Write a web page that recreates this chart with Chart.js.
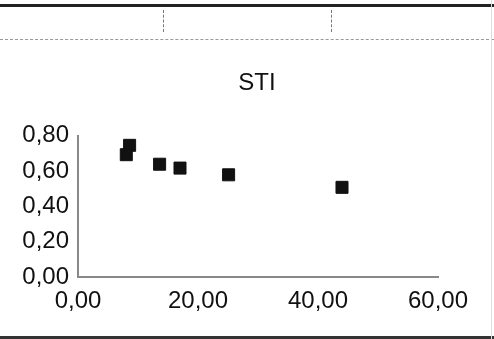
<!DOCTYPE html>
<html>
<head>
<meta charset="utf-8">
<script src="https://cdn.jsdelivr.net/npm/chart.js@4/dist/chart.umd.min.js"></script>
<style>
    body { margin: 0; background: #fff; }
    #wrap { position: relative; width: 494px; height: 339px; background: #fff; overflow: hidden; }
    #stiChart { position: absolute; left: 0; top: 0; }
    .topLine { position: absolute; left: 0; top: 4px; width: 494px; height: 3px; background: #222; }
    .dashLine { position: absolute; left: 0; top: 39px; width: 494px; border-top: 1px dashed #999; }
    .vTick { position: absolute; top: 10px; height: 22px; border-left: 1px dashed #777; }
    .bottomLine { position: absolute; left: 0; top: 336px; width: 494px; height: 3px; background: #333; }
    .rightLine { position: absolute; left: 491px; top: 0; width: 1px; height: 339px; background: #ddd; }
</style>
</head>
<body>
<div id="wrap">
    <canvas id="stiChart" width="494" height="339"></canvas>
    <div class="topLine"></div>
    <div class="dashLine"></div>
    <div class="vTick" style="left:163px"></div>
    <div class="vTick" style="left:331px"></div>
    <div class="bottomLine"></div>
    <div class="rightLine"></div>
</div>
<script>
const A_xVal = [8.6, 8.05, 13.6, 17.0, 25.1, 44.0];
const A_yVal = [0.746, 0.693, 0.639, 0.617, 0.579, 0.508];
const A_xTicks = [0, 20, 40, 60];
const A_yTicks = [0, 0.2, 0.4, 0.6, 0.8];

const A_points = A_xVal.map((x, i) => ({ x: x, y: A_yVal[i] }));

function formatComma(value)
{
    return value.toFixed(2).replace(".", ",");
}

const font = "'Liberation Sans', Arial, sans-serif";

const ctx = document.getElementById("stiChart").getContext("2d");
const stiChart = new Chart(ctx, {
    type: "scatter",
    data: {
        datasets: [{
            label: "STI",
            data: A_points,
            backgroundColor: "#111",
            borderColor: "#111",
            borderWidth: 1,
            pointStyle: "rect",
            pointRadius: 8.5
        }]
    },
    options: {
        responsive: false,
        animation: false,
        layout: { padding: { left: 20, right: 0, top: 0, bottom: 0 } },
        plugins: {
            legend: { display: false },
            tooltip: { enabled: false },
            title: {
                display: true,
                text: "STI",
                color: "#111",
                font: { family: font, size: 24, weight: "normal" },
                padding: { top: 69, bottom: 38 }
            }
        },
        scales: {
            x: {
                type: "linear",
                min: 0,
                max: 60,
                afterBuildTicks: (axis) => { axis.ticks = A_xTicks.map(v => ({ value: v })); },
                afterFit: (axis) => { axis.height = 62; },
                grid: { display: false, drawTicks: false },
                border: { display: true, color: "#888", width: 2 },
                ticks: {
                    color: "#111",
                    padding: 10,
                    maxRotation: 0,
                    font: { family: font, size: 24 },
                    callback: (v) => formatComma(v)
                }
            },
            y: {
                type: "linear",
                min: 0,
                max: 0.8,
                afterBuildTicks: (axis) => { axis.ticks = A_yTicks.map(v => ({ value: v })); },
                afterFit: (axis) => { axis.width = 58; },
                grid: { display: false, drawTicks: false },
                border: { display: true, color: "#888", width: 2 },
                ticks: {
                    color: "#111",
                    padding: 9,
                    font: { family: font, size: 24 },
                    callback: (v) => formatComma(v)
                }
            },
            spacer: {
                type: "linear",
                position: "right",
                axis: "y",
                min: 0,
                max: 0.8,
                afterFit: (axis) => { axis.width = 56; },
                grid: { display: false, drawTicks: false },
                border: { display: false },
                ticks: { display: false }
            }
        }
    }
});
</script>
</body>
</html>
